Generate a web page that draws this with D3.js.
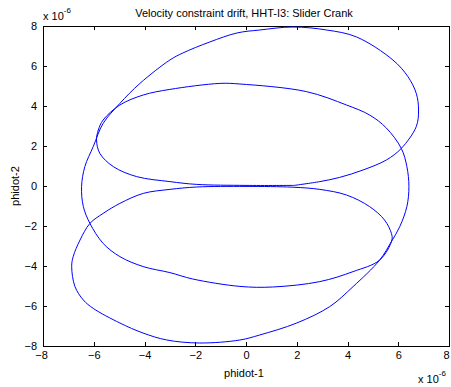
<!DOCTYPE html>
<html>
<head>
<meta charset="utf-8">
<script src="https://cdn.jsdelivr.net/npm/d3@7"></script>
<style>
  body { margin: 0; background: #fff; }
  text { font-family: "Liberation Sans", Arial, sans-serif; fill: #000; }
</style>
</head>
<body>
<svg id="chart" width="451" height="387"></svg>
<script>
// phidot-1 / phidot-2 trajectory, values in units of 1e-6 in drawing order
let drift = [
	[1.9, 0.03], [0, 0.03], [-1.94, 0.08], [-3.0, 0.22], [-4.31, 0.47], [-5.23, 0.97],
	[-5.76, 1.63], [-5.89, 2.3], [-5.82, 2.8], [-5.63, 3.3], [-4.97, 4.05], [-4.05, 4.55],
	[-3.0, 4.83], [-1.03, 5.13], [-0.24, 5.1], [2.38, 4.72], [3.96, 4.05], [4.87, 3.55],
	[5.53, 2.9], [6.12, 1.88], [6.34, 0.97], [6.42, -0.03], [6.34, -1.03], [6.06, -2.03],
	[5.73, -2.78], [5.27, -3.7], [4.22, -5.03], [3.3, -6.03], [2.0, -6.85], [0.54, -7.45],
	[-0.24, -7.7], [-1.82, -7.85], [-3.12, -7.7], [-4.06, -7.35], [-4.97, -6.85], [-6.02, -6.12],
	[-6.41, -5.7], [-6.74, -5.03], [-6.87, -4.03], [-6.81, -3.53], [-6.54, -2.7], [-6.15, -1.87],
	[-5.63, -1.37], [-4.97, -0.87], [-4.05, -0.37], [-3.0, -0.17], [-1.94, -0.05], [0, -0.02],
	[1.85, -0.06], [2.91, -0.17], [3.96, -0.45], [4.87, -1.03], [5.46, -1.7], [5.73, -2.37],
	[5.75, -2.7], [5.27, -3.7], [4.22, -4.28], [2.91, -4.78], [1.05, -5.05], [-0.24, -5.02],
	[-2.1, -4.65], [-3.0, -4.33], [-4.05, -4.03], [-4.97, -3.53], [-5.63, -2.87], [-6.15, -1.87],
	[-6.41, -1.03], [-6.48, -0.03], [-6.35, 0.97], [-6.02, 1.97], [-5.63, 3.13], [-4.97, 4.13],
	[-4.18, 5.13], [-3.0, 6.3], [-2.49, 6.65], [-1.43, 7.2], [-0.36, 7.65], [0.54, 7.8],
	[1.85, 7.95], [3.18, 7.8], [4.36, 7.45], [5.79, 6.3], [6.38, 5.47], [6.71, 4.63],
	[6.8, 3.8], [6.71, 2.97], [6.12, 1.88], [5.53, 1.3], [4.61, 0.8], [3.69, 0.43],
	[2.91, 0.22], [1.9, 0.03]
];
let xTicks = [-8, -6, -4, -2, 0, 2, 4, 6, 8];
let yTicks = [-8, -6, -4, -2, 0, 2, 4, 6, 8];
let titleText = 'Velocity constraint drift, HHT-I3: Slider Crank';
let xLabel = 'phidot-1';
let yLabel = 'phidot-2';

let svg = d3.select('#chart');
let mLeft = 43, mRight = 449, mTop = 26, mBottom = 346;

let x = d3.scaleLinear().domain([-8, 8]).range([mLeft, mRight]);
let y = d3.scaleLinear().domain([-8, 8]).range([mBottom, mTop]);

// frame
svg.append('rect').attr('x', mLeft).attr('y', mTop).attr('width', mRight - mLeft).attr('height', mBottom - mTop)
	.attr('fill', '#fff').attr('stroke', '#000').attr('stroke-width', 1).attr('shape-rendering', 'crispEdges');

let styleAxis = function (g) {
	g.select('.domain').remove();
	g.selectAll('line').attr('stroke', '#000').attr('shape-rendering', 'crispEdges');
	g.selectAll('text').style('font-size', '11px').attr('fill', '#000');
}

let xAxisG = svg.append('g').attr('transform', `translate(0,${mBottom})`)
	.call(d3.axisBottom(x).tickValues(xTicks).tickSizeInner(-4).tickSizeOuter(0).tickPadding(5).tickFormat(d3.format('d')))
	.call(styleAxis);
// the end labels sit a little inside, as in the original
xAxisG.selectAll('.tick text').attr('dx', d => d === 8 ? -3 : (d === -8 ? -2 : 0));

svg.append('g').attr('transform', `translate(0,${mTop})`)
	.call(d3.axisTop(x).tickValues(xTicks).tickSizeInner(-4).tickSizeOuter(0).tickFormat(''))
	.call(styleAxis);
svg.append('g').attr('transform', `translate(${mLeft},0)`)
	.call(d3.axisLeft(y).tickValues(yTicks).tickSizeInner(-4).tickSizeOuter(0).tickPadding(6).tickFormat(d3.format('d')))
	.call(styleAxis);
svg.append('g').attr('transform', `translate(${mRight},0)`)
	.call(d3.axisRight(y).tickValues(yTicks).tickSizeInner(-4).tickSizeOuter(0).tickFormat(''))
	.call(styleAxis);

// trajectory
let line = d3.line().x(d => x(d[0])).y(d => y(d[1])).curve(d3.curveCatmullRom.alpha(0.5));
svg.append('path').datum(drift).attr('d', line)
	.attr('fill', 'none').attr('stroke', '#0000ff').attr('stroke-width', 1);

// texts
svg.append('text').attr('x', 244).attr('y', 17).attr('text-anchor', 'middle').style('font-size', '11px').text(titleText);
svg.append('text').attr('x', 244).attr('y', 377).attr('text-anchor', 'middle').style('font-size', '11px').text(xLabel);
svg.append('text').attr('transform', 'translate(19,186) rotate(-90)').attr('text-anchor', 'middle').style('font-size', '11px').text(yLabel);

let expo = function (px, py) {
	let t = svg.append('text').attr('x', px).attr('y', py).style('font-size', '11px');
	t.append('tspan').text('x 10');
	t.append('tspan').attr('dy', -7).style('font-size', '8px').text('-6');
}
expo(43, 20);
expo(418, 383);
</script>
</body>
</html>
